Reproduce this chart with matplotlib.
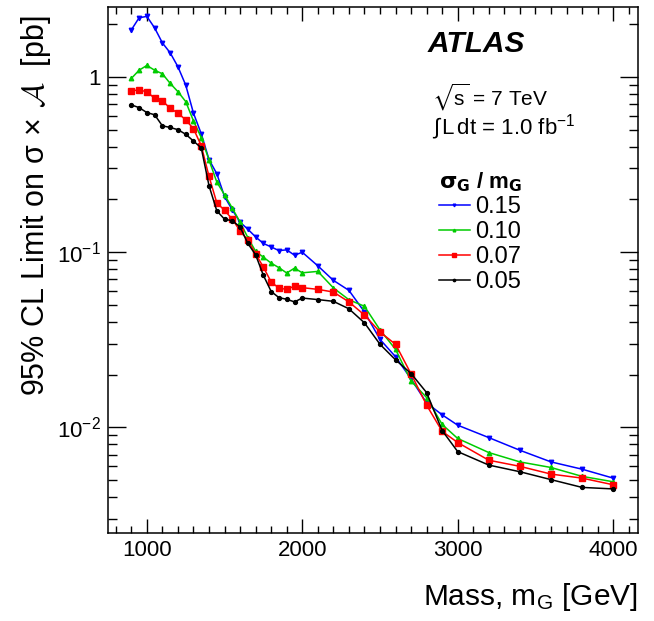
import numpy as np
import matplotlib
matplotlib.use("Agg")
import matplotlib.pyplot as plt
from matplotlib.ticker import FixedLocator, FuncFormatter, LogLocator, NullFormatter

plt.rcParams['font.family'] = ['Liberation Sans', 'DejaVu Sans']
plt.rcParams['mathtext.default'] = 'regular'

# resonance mass points [GeV]
mass = [900, 950, 1000, 1050, 1100, 1150, 1200, 1250, 1300, 1350, 1400, 1450,
        1500, 1550, 1600, 1650, 1700, 1750, 1800, 1850, 1900, 1950, 2000,
        2100, 2200, 2300, 2400, 2500, 2600, 2700, 2800, 2900, 3000,
        3200, 3400, 3600, 3800, 4000]

# 95% CL limits [pb] for each width hypothesis
lim_015 = [1.85, 2.17, 2.21, 1.90, 1.56, 1.37, 1.14, 0.897, 0.62, 0.473, 0.337, 0.280,
           0.207, 0.174, 0.148, 0.135, 0.122, 0.112, 0.107, 0.102, 0.103, 0.096, 0.0998,
           0.0835, 0.069, 0.0605, 0.0456, 0.0318, 0.0253, 0.0189, 0.0138, 0.0118, 0.0103,
           0.00875, 0.00741, 0.00636, 0.00578, 0.00514]
lim_010 = [0.978, 1.09, 1.16, 1.09, 1.04, 0.917, 0.822, 0.722, 0.56, 0.45, 0.335, 0.251,
           0.212, 0.178, 0.148, 0.121, 0.101, 0.0935, 0.0865, 0.0815, 0.076, 0.081, 0.0762,
           0.0776, 0.0625, 0.0535, 0.0491, 0.036, 0.0279, 0.0184, 0.0148, 0.0104, 0.00865,
           0.00719, 0.00636, 0.00591, 0.00526, 0.0049]
lim_007 = [0.833, 0.840, 0.822, 0.754, 0.728, 0.662, 0.620, 0.568, 0.505, 0.405, 0.27, 0.191,
           0.173, 0.154, 0.132, 0.117, 0.0977, 0.082, 0.0675, 0.0623, 0.0613, 0.064, 0.0627,
           0.0613, 0.0592, 0.052, 0.0438, 0.035, 0.0298, 0.0202, 0.0134, 0.0095, 0.0082,
           0.0065, 0.006, 0.00542, 0.00514, 0.00471]
lim_005 = [0.691, 0.667, 0.625, 0.607, 0.525, 0.514, 0.499, 0.47, 0.43, 0.393, 0.239, 0.172,
           0.154, 0.151, 0.139, 0.112, 0.0964, 0.0736, 0.0596, 0.055, 0.0538, 0.052, 0.0547,
           0.0536, 0.0524, 0.0475, 0.0395, 0.0298, 0.0243, 0.0203, 0.0158, 0.0096, 0.00728,
           0.0061, 0.00559, 0.00504, 0.00455, 0.00446]

labels = ['0.15', '0.10', '0.07', '0.05']
colors = ['#0000ff', '#00cc00', '#ff0000', '#000000']
markers = ['v', '^', 's', 'o']
msizes = [3.2, 3.2, 4.0, 2.8]

fig = plt.figure(figsize=(6.54, 6.21), dpi=100)
ax = fig.add_axes([108/654, 1-533/621, (638-108)/654, (533-7)/621])

for y, lab, c, m, ms in zip([lim_015, lim_010, lim_007, lim_005], labels, colors, markers, msizes):
    ax.plot(mass, y, color=c, marker=m, markersize=ms, lw=1.1, label=lab)

ax.set_yscale('log')
ax.set_xlim(750, 4160)
ax.set_ylim(0.0025, 2.5)

ax.xaxis.set_major_locator(FixedLocator([1000, 2000, 3000, 4000]))
ax.xaxis.set_minor_locator(FixedLocator(np.arange(800, 4200, 100)))
ax.yaxis.set_major_locator(LogLocator(base=10, numticks=10))
ax.yaxis.set_minor_locator(LogLocator(base=10, subs=np.arange(2, 10), numticks=20))
ax.yaxis.set_minor_formatter(NullFormatter())

def yfmt(v, pos):
    e = int(round(np.log10(v)))
    if e == 0:
        return '1'
    return r'$10^{%d}$' % e

ax.yaxis.set_major_formatter(FuncFormatter(yfmt))

ax.tick_params(which='both', direction='in', top=True, right=True, labelsize=16, width=1.0)
ax.tick_params(axis='x', which='major', length=10, pad=5)
ax.tick_params(axis='x', which='minor', length=5)
ax.tick_params(axis='y', which='major', length=13, pad=5)
ax.tick_params(axis='y', which='minor', length=6.5)
for s in ax.spines.values():
    s.set_linewidth(1.1)

ax.set_ylabel(r'95% CL Limit on σ$\,\times\,\mathcal{A}$  [pb]', fontsize=22,
              math_fontfamily='cm')
ax.yaxis.set_label_coords(-0.103, 0.985)
ax.yaxis.label.set_horizontalalignment('right')
ax.set_xlabel(r'Mass, m$_G$ [GeV]', fontsize=21.5)
ax.xaxis.set_label_coords(1.0, -0.092)
ax.xaxis.label.set_horizontalalignment('right')

fig.text(428/654, 1-52/621, 'ATLAS', fontsize=21.5, fontweight='bold', style='italic')
fig.text(432/654, 1-106/621, r'$\sqrt{s}$ = 7 TeV', fontsize=15, math_fontfamily='stix')
fig.text(432/654, 1-134/621, r'$\int\, L\, dt$ = 1.0 fb$^{-1}$', fontsize=16, math_fontfamily='stix')

leg = ax.legend(loc='upper left', bbox_to_anchor=(439/654, 1-170/621), bbox_transform=fig.transFigure,
                frameon=False, fontsize=17, title=r'$\mathbf{\sigma_G}$ / m$_\mathbf{G}$',
                title_fontproperties={'weight': 'bold', 'size': 16}, alignment='left',
                handlelength=1.3, handletextpad=0.25, labelspacing=0.12, borderpad=0,
                borderaxespad=0, markerscale=0.6)

fig.savefig('out.png', dpi=100)
